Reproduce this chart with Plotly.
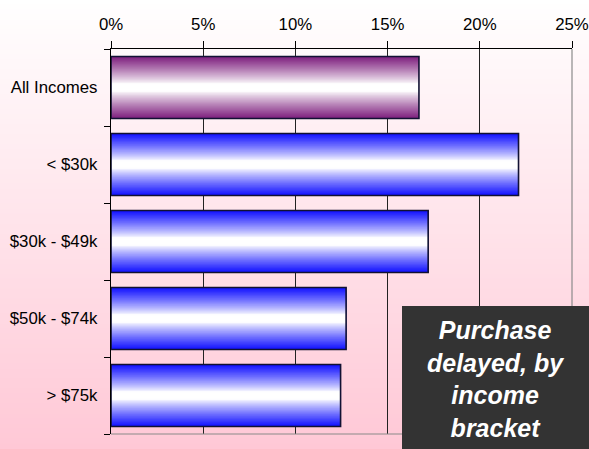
import plotly.graph_objects as go

# ---------------- data ----------------
categories = ["All Incomes", "< $30k", "$30k - $49k", "$50k - $74k", "> $75k"]
category_labels = ["All Incomes", "&lt; $30k", "$30k - $49k", "$50k - $74k", "&gt; $75k"]
values = [16.7, 22.1, 17.2, 12.75, 12.45]
x_tick_values = [0, 5, 10, 15, 20, 25]
x_tick_labels = ["0%", "5%", "10%", "15%", "20%", "25%"]
note_lines = ["Purchase", "delayed, by", "income", "bracket"]

# ---------------- styling ----------------
W, H = 589, 449
ML, MR, MT, MB = 111, 17, 49, 15
PW, PH = W - ML - MR, H - MT - MB

edge_colors = [(125, 30, 125)] + [(15, 15, 255)] * (len(categories) - 1)
white = (255, 255, 255)
BAR_W = 0.805
N = 28


def mix(c1, c2, t):
    return "rgb(%d,%d,%d)" % tuple(round(a + (b - a) * t) for a, b in zip(c1, c2))


def profile(d):
    # d: 0 at bar centre, 1 at edge -> amount of edge colour
    v = (d - 0.12) / 0.88
    v = max(0.0, min(1.0, v))
    return v ** 0.85


fig = go.Figure()
for k in range(N):
    d_outer = 1 - k / N
    d_mid = 1 - (k + 0.5) / N
    t = profile(d_mid)
    cols = [mix(white, ec, t) for ec in edge_colors]
    fig.add_trace(go.Bar(
        y=categories, x=values, orientation="h",
        width=BAR_W * d_outer,
        marker=dict(color=cols, line=dict(width=0)),
        hoverinfo="skip", showlegend=False,
    ))
# outline
fig.add_trace(go.Bar(
    y=categories, x=values, orientation="h", width=BAR_W,
    marker=dict(color="rgba(0,0,0,0)", line=dict(color="#111133", width=1.6)),
    hoverinfo="skip", showlegend=False,
))

# background gradient strips (paper coords covering whole page)
shapes = []
S = 90
top_c, bot_c = (255, 255, 255), (255, 200, 214)
for i in range(S):
    y_top_px = H * i / S
    y_bot_px = H * (i + 1) / S
    y1 = (H - MB - y_top_px) / PH
    y0 = (H - MB - y_bot_px) / PH
    shapes.append(dict(
        type="rect", xref="paper", yref="paper",
        x0=-ML / PW, x1=1 + MR / PW, y0=y0 - 0.002, y1=y1 + 0.002,
        fillcolor=mix(top_c, bot_c, (i + 0.5) / S), line=dict(width=0), layer="below",
    ))
# right and bottom border
shapes.append(dict(type="line", xref="paper", yref="paper", x0=1, x1=1, y0=0, y1=1,
                   line=dict(color="#8a8a8a", width=1.2), layer="above"))
shapes.append(dict(type="line", xref="paper", yref="paper", x0=0, x1=1, y0=0, y1=0,
                   line=dict(color="#8a8a8a", width=1.2), layer="above"))
# note box
bx0_px, by0_px = 402, 306
shapes.append(dict(
    type="rect", xref="paper", yref="paper",
    x0=(bx0_px - ML) / PW, x1=1 + MR / PW,
    y0=-MB / PH, y1=(H - MB - by0_px) / PH,
    fillcolor="#333333", line=dict(width=0), layer="above",
))

annotations = [dict(
    xref="paper", yref="paper",
    x=((bx0_px + W) / 2 - ML) / PW, y=(H - MB - (by0_px + H) / 2 - 1) / PH,
    xanchor="center", yanchor="middle", showarrow=False,
    text="<b><i>" + "<br>".join(note_lines) + "</i></b>",
    font=dict(family="Liberation Sans, Arial", size=25, color="white"),
    align="center",
)]

fig.update_layout(
    width=W, height=H, autosize=False,
    margin=dict(l=ML, r=MR, t=MT, b=MB, pad=0, autoexpand=False),
    barmode="overlay",
    paper_bgcolor="white",
    plot_bgcolor="rgba(0,0,0,0)",
    font=dict(family="Liberation Sans, Arial", size=16.8, color="black"),
    shapes=shapes,
    annotations=annotations,
    xaxis=dict(
        side="top", range=[0, 25], tickvals=x_tick_values, ticktext=x_tick_labels,
        showgrid=True, gridcolor="#222222", gridwidth=1,
        showline=True, linecolor="black", linewidth=1,
        ticks="outside", ticklen=7, tickcolor="black", ticklabelstandoff=4,
        zeroline=False, fixedrange=True, automargin=False,
    ),
    yaxis=dict(
        type="category", categoryorder="array", categoryarray=categories,
        tickvals=categories, ticktext=category_labels,
        autorange="reversed",
        showgrid=False, showline=True, linecolor="black", linewidth=1.2,
        ticks="outside", ticklen=6, tickcolor="black", tickson="boundaries",
        ticklabelstandoff=9,
        zeroline=False, fixedrange=True, automargin=False,
    ),
)

fig.write_html(
    "out.html",
    config={"displayModeBar": False, "responsive": False, "staticPlot": True},
    post_script="document.body.style.margin='0';document.body.style.overflow='hidden';",
)
